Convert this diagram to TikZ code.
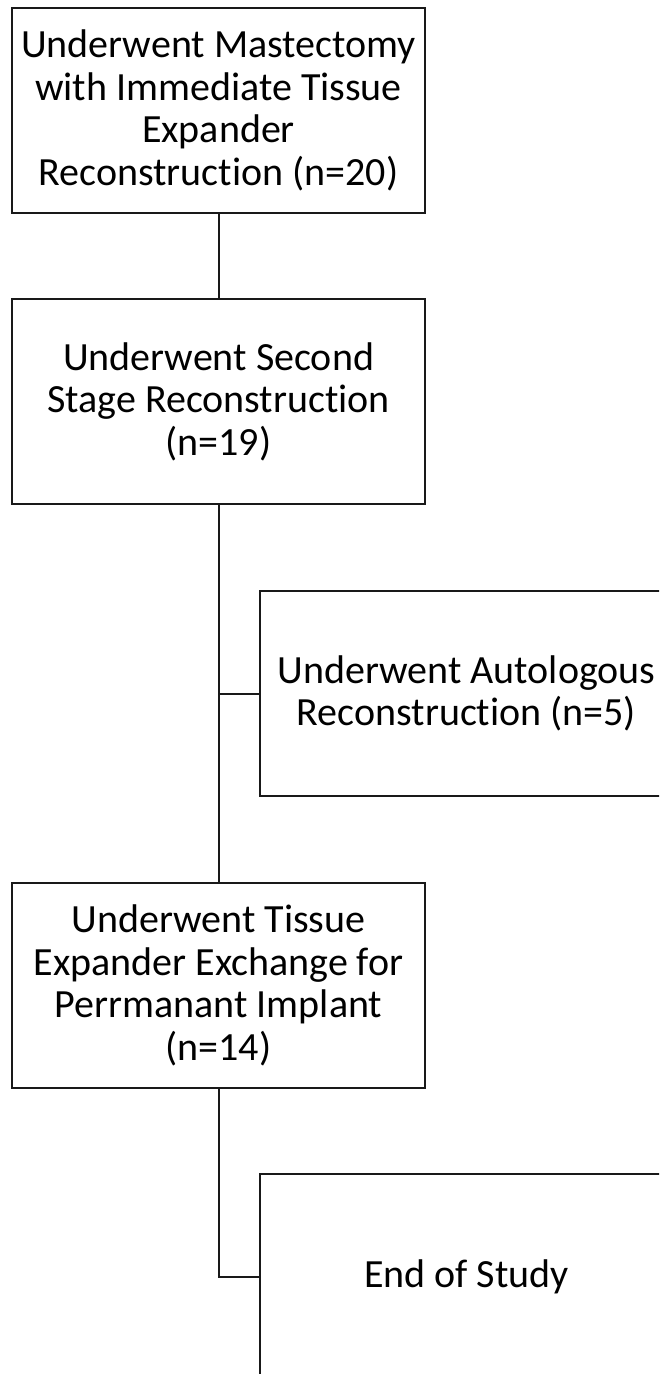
\documentclass[tikz,border=0pt]{standalone}
\usepackage{fontspec}
\setmainfont{Carlito}[Ligatures=NoCommon]
\newcommand{\boxfont}{\fontsize{40}{42.5}\selectfont}
\tikzset{
  stagebox/.style={draw=black!90, line width=2pt, minimum width=413pt,
    minimum height=205pt, align=center, inner sep=0pt, font=\boxfont},
  link/.style={draw=black!90, line width=2pt}
}
\begin{document}
\begin{tikzpicture}[x=1pt,y=-1pt]
      \useasboundingbox (0,0) rectangle (659,1374);
      \clip (0,0) rectangle (659,1374);
      \draw
        (218.5,110.5) node[stagebox] (mast){Underwent Mastectomy\\with Immediate Tissue\\Expander\\Reconstruction (n=20)}
        (218.5,401.5) node[stagebox] (second){Underwent Second\\Stage Reconstruction\\(n=19)}
        (466.5,693.5) node[stagebox] (auto){Underwent Autologous\\Reconstruction (n=5)}
        (218.5,985.5) node[stagebox] (exch){Underwent Tissue\\Expander Exchange for\\Perrmanant Implant\\(n=14)}
        (466.5,1276.5) node[stagebox] (end){End of Study};
      \coordinate (split) at (second.south |- auto.west);
      \begin{scope}[link]
        \draw (mast) to (second);
        \draw (second) to (exch);
        \draw (split) to (auto);
        \draw (exch.south) |- (end.west);
      \end{scope}
    \end{tikzpicture}
\end{document}
